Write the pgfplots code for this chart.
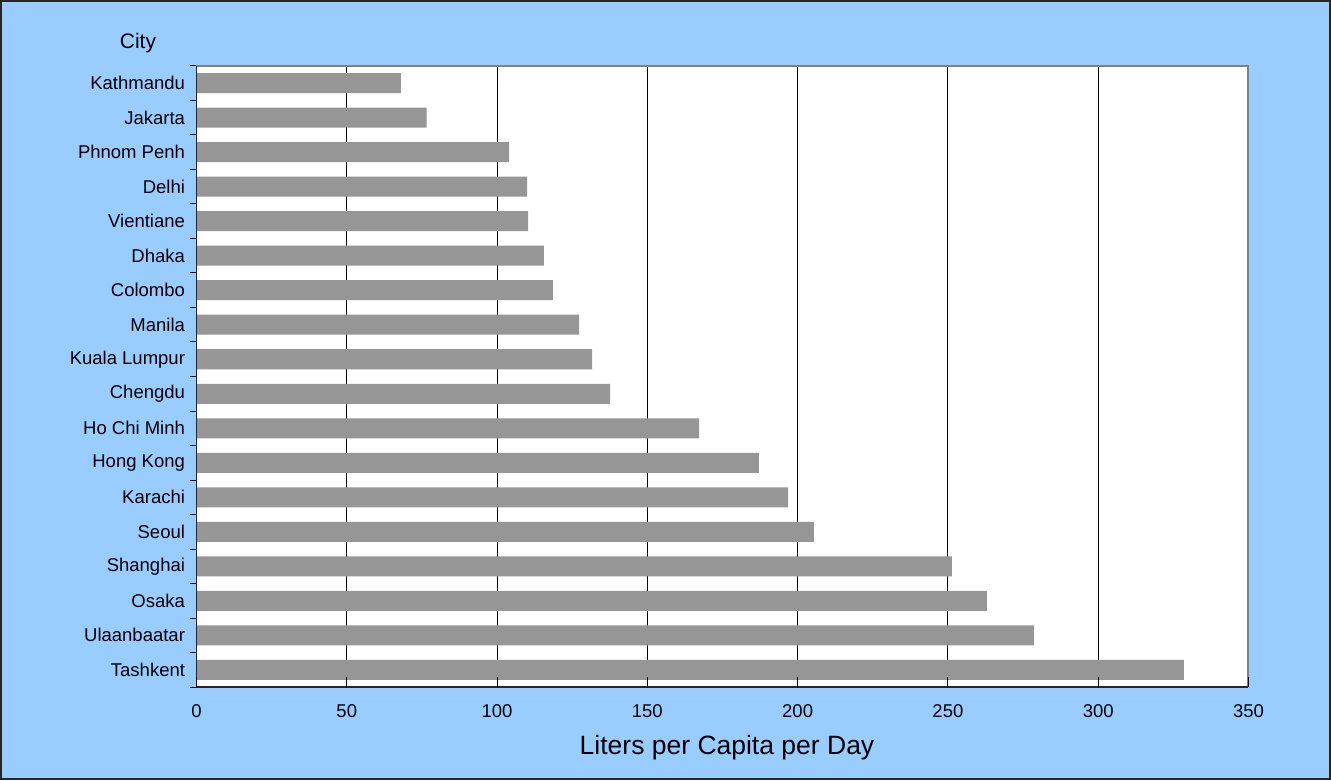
\documentclass[border=0pt]{standalone}
\usepackage{fontspec}
\setmainfont{Liberation Sans}
\usepackage{pgfplots}
\pgfplotsset{compat=1.18}
\definecolor{bgblue}{HTML}{99CCFF}
\definecolor{bargray}{HTML}{969696}
\definecolor{framegray}{HTML}{808080}
\begin{document}
\begin{tikzpicture}
\useasboundingbox (-196.5pt,-93pt) rectangle (1134.5pt,687pt);
\fill[bgblue] (-196.5pt,-93pt) rectangle (1134.5pt,687pt);
\draw[black!85, line width=2pt] (-195.5pt,-92pt) rectangle (1133.5pt,686pt);
\begin{axis}[
  at={(0pt,0pt)}, anchor=south west,
  scale only axis,
  width=1052pt, height=621pt,
  xbar, bar width=20pt,
  xmin=0, xmax=350, ymin=-0.5, ymax=17.5,
  xtick={0,50,...,350},
  ytick={0,...,17},
  yticklabels={Tashkent,Ulaanbaatar,Osaka,Shanghai,Seoul,Karachi,Hong Kong,Ho Chi Minh,Chengdu,Kuala Lumpur,Manila,Colombo,Dhaka,Vientiane,Delhi,Phnom Penh,Jakarta,Kathmandu},
  minor ytick={-0.5,0.5,...,17.5},
  ytick pos=left, xtick pos=bottom,
  axis background/.style={fill=white},
  axis line style={draw=none},
  xmajorgrids, grid style={black, line width=0.9pt},
  major tick length=0pt,
  minor tick length=6pt,
  tick align=outside,
  ytick style={black, line width=1pt},
  minor tick style={black, line width=1pt},
  xtick style={draw=none},
  /pgf/number format/assume math mode=true,
  ticklabel style={font=\fontsize{18.5}{20}\selectfont, text=black},
  xticklabel style={yshift=-14pt},
  yticklabel style={xshift=-8pt},
  clip=false,
]
\addplot[fill=bargray, draw=none] coordinates {
(328.5,0) (278.6,1) (263.0,2) (251.3,3) (205.4,4) (196.8,5) (187.1,6) (167.2,7)
(137.6,8) (131.6,9) (127.3,10) (118.6,11) (115.6,12) (110.3,13) (110.0,14)
(104.0,15) (76.6,16) (68.0,17)
};
\draw[framegray, line width=2pt] (rel axis cs:0,1) -- (rel axis cs:1,1) -- (rel axis cs:1,0);
\draw[black!85, line width=1.3pt] (rel axis cs:0,1) -- (rel axis cs:0,0) -- (rel axis cs:1,0);
\foreach \v in {0,50,...,350} {
  \edef\tmp{\noexpand\draw[black, line width=1pt] (axis cs:\v,-0.5) -- ++(0,-7pt);}
  \tmp
}
\end{axis}
\node[font=\fontsize{21}{24}\selectfont] at (-58.5pt,644pt) {City};
\node[font=\fontsize{26.5}{30}\selectfont] at (530.5pt,-61pt) {Liters per Capita per Day};
\end{tikzpicture}
\end{document}
